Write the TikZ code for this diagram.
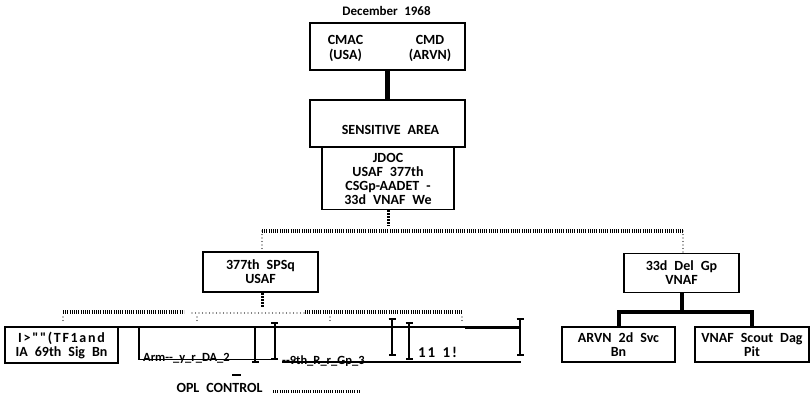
\documentclass[tikz,border=0pt]{standalone}
\usepackage{fontspec}
\setmainfont{Carlito}[Ligatures=TeXOff]
\usetikzlibrary{arrows.meta, positioning}

\newcommand{\orgfont}[1][14]{\bfseries\fontsize{#1}{14}\selectfont\spaceskip=0.5em\relax}
\tikzset{
    orgbox/.style={draw, line width=1.8pt, inner sep=0pt, align=center, font=\orgfont},
    orgtext/.style={inner sep=0pt, align=center, font=\orgfont},
    solidlink/.style={line width=4.5pt},
    padlink/.style={line width=3pt, dash pattern=on 1.8pt off 1.2pt},
    dotlink/.style={line width=1.3pt, line cap=round, dash pattern=on 0pt off 3.5pt},
    tickrow/.style={line width=3.5pt, dash pattern=on 0.6pt off 1.6pt},
    ibar/.style={line width=2pt, arrows={Bar[width=7pt]-Bar[width=7pt]}},
    ruleline/.style={line width=1.5pt},
}

\begin{document}
\begin{tikzpicture}[x=1pt, y=-1pt]
    \useasboundingbox (0,0) rectangle (811,400);

    % Date
    \node[orgtext, font={\orgfont[13]}] (date) at (386.5,11) {December 1968};

    % Command level
    \node[orgbox, minimum width=155, minimum height=47] (cmd) at (387.5,46.5) {};
    \node[orgtext, font={\orgfont\baselineskip=15pt}] (cmac) at (345.5,48.5) {CMAC\\(USA)};
    \node[orgtext, font={\orgfont\baselineskip=15pt}] (cmdarvn) at (430,48.5) {CMD\\(ARVN)};

    % Sensitive area and JDOC
    \node[orgbox, minimum width=155, minimum height=47] (sens) at (387.5,123.5) {};
    \node[orgtext] (senstext) at (390.5,130) {SENSITIVE AREA};
    \node[orgbox, minimum width=132, minimum height=62] (jdoc) at (388,178.5) {JDOC\\USAF 377th\\CSGp-AADET -\\33d VNAF We};
    \draw[solidlink] (cmd) -- (sens);

    % Second level
    \node[orgbox, minimum width=115, minimum height=40] (spsq) at (260.5,272) {377th SPSq\\USAF};
    \node[orgbox, minimum width=115, minimum height=39] (delgp) at (681.5,273) {33d Del Gp\\VNAF};
    \coordinate (jdocfoot) at (388,226);
    \coordinate (rowwest) at (262,231);
    \coordinate (roweast) at (683,231);
    \draw[padlink] (jdoc.south) -- (jdocfoot);
    \draw[tickrow] (rowwest) -- (roweast);
    \draw[dotlink] (rowwest) -- (rowwest |- spsq.north);
    \draw[dotlink] (roweast) -- (roweast |- delgp.north);

    % VNAF branch
    \node[orgbox, minimum width=113, minimum height=35] (arvn) at (618.5,344.5) {ARVN 2d Svc\\Bn};
    \node[orgbox, minimum width=114, minimum height=35] (scout) at (752,344.5) {VNAF Scout Dag\\Pit};
    \coordinate (delsplit) at (681.5,312);
    \draw[solidlink, line width=4pt] (delgp) -- (delsplit);
    \draw[solidlink, line width=4pt] (arvn) |- (delsplit) -| (scout);

    % USAF branch
    \node[orgbox, minimum width=113, minimum height=36] (tfbox) at (61.5,345) {{\addfontfeature{LetterSpace=12}I>""(TF1and}\\IA 69th Sig Bn};
    \coordinate (spsqfoot) at (262,307);
    \draw[padlink] (spsq.south -| spsqfoot) -- (spsqfoot);
    \draw[tickrow] (63,312) -- (184,312);
    \draw[dotlink] (192,313) -- (305,313);
    \draw[tickrow] (305,312) -- (462,312);
    \foreach \x in {63,197,330,462}
        \draw[dotlink] (\x,317) -- (\x,321);

    % Control lines
    \draw[ruleline] (61,327) -- (465,327);
    \draw[line width=3.2pt] (465,327.5) -- (520,327.5);
    \draw[ruleline] (139,327) -- (139,359.5) -- (276,359.5);
    \draw[ruleline] (282,362) -- (521,362);
    \foreach \x/\ya/\yb in {255/326/363, 274.5/322/360, 392/318/356, 409/322/360, 520/318/356}
        \draw[ibar] (\x,\ya) -- (\x,\yb);
    \node[orgtext, font={\orgfont[12.5]}, anchor=base west] (army) at (143,361.5) {Arm--\_y\_r\_DA\_2};
    \node[orgtext, font={\orgfont[12.5]}, anchor=base west] (group) at (282,364) {--9th\_R\_r\_Gp\_3};
    \node[orgtext, font={\orgfont[15]\addfontfeature{LetterSpace=12}}, anchor=base west] (elev) at (418,357) {11 1!};
    \node[orgtext] (opl) at (219.5,388) {OPL CONTROL};
    \draw[tickrow, line width=3pt] (273,391) -- (359,391);
    \draw[line width=2pt] (232,375) -- (241,375);
\end{tikzpicture}
\end{document}
